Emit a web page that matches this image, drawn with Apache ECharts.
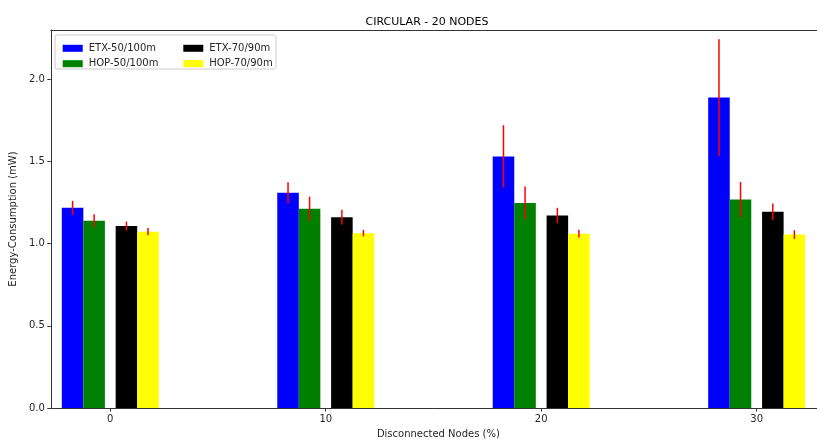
<!DOCTYPE html>
<html>
<head>
<meta charset="utf-8">
<script src="https://cdn.jsdelivr.net/npm/echarts@6/dist/echarts.min.js"></script>
<style>
html,body{margin:0;padding:0;background:#fff;}
#chart{width:817px;height:444px;}
</style>
</head>
<body>
<div id="chart"></div>
<script>
// ---- data ----
var categories = [0, 10, 20, 30];
var seriesNames = ['ETX-50/100m', 'HOP-50/100m', 'ETX-70/90m', 'HOP-70/90m'];
var etx50 = [1.218, 1.309, 1.531, 1.889];
var etx50Err = [0.042, 0.064, 0.190, 0.355];
var hop50 = [1.139, 1.212, 1.248, 1.268];
var hop50Err = [0.040, 0.074, 0.100, 0.107];
var etx70 = [1.107, 1.161, 1.172, 1.194];
var etx70Err = [0.028, 0.045, 0.046, 0.050];
var hop70 = [1.073, 1.064, 1.061, 1.055];
var hop70Err = [0.022, 0.020, 0.024, 0.027];
var yTicks = [0, 0.5, 1.0, 1.5, 2.0];

// ---- style / layout ----
var colors = ['#0000ff', '#008000', '#000000', '#ffff00'];
var offsets = [-1.75, -0.75, 0.75, 1.75];
var barW = 1.0;
var FONT = 'DejaVu Sans';
var TXT = '#262626';

function build(vals, errs) {
  return categories.map(function (c, i) { return [c, vals[i], errs[i]]; });
}
function makeRender(offset, color) {
  return function (params, api) {
    var x = api.value(0) + offset;
    var y = api.value(1);
    var e = api.value(2);
    var p0 = api.coord([x - barW / 2, y]);
    var p1 = api.coord([x + barW / 2, 0]);
    var a = api.coord([x, y + e]);
    var b = api.coord([x, y - e]);
    return {
      type: 'group',
      children: [
        { type: 'rect', shape: { x: p0[0], y: p0[1], width: p1[0] - p0[0], height: p1[1] - p0[1] },
          style: { fill: color } },
        { type: 'line', z2: 10, shape: { x1: a[0], y1: a[1], x2: b[0], y2: b[1] },
          style: { stroke: '#ff0000', lineWidth: 1.5 } }
      ]
    };
  };
}

var allVals = [etx50, hop50, etx70, hop70];
var allErrs = [etx50Err, hop50Err, etx70Err, hop70Err];
var series = seriesNames.map(function (n, k) {
  return {
    type: 'custom',
    name: n,
    xAxisIndex: 0,
    yAxisIndex: 0,
    itemStyle: { color: colors[k] },
    renderItem: makeRender(offsets[k], colors[k]),
    encode: { x: 0, y: 1 },
    data: build(allVals[k], allErrs[k]),
    clip: false,
    silent: true
  };
});

var XMIN = -2.76, XMAX = 32.8;
var chart = echarts.init(document.getElementById('chart'), null, { renderer: 'canvas' });
chart.setOption({
  animation: false,
  backgroundColor: '#ffffff',
  title: {
    text: 'CIRCULAR - 20 NODES',
    left: 422, top: 12, textAlign: 'center',
    textStyle: { fontFamily: FONT, fontSize: 11, fontWeight: 'normal', color: '#000' }
  },
  grid: { left: 49, right: 0, top: 30, bottom: 35, containLabel: false },
  legend: [
    {
      orient: 'vertical', left: 57.7, top: 37.3, itemWidth: 20, itemHeight: 7, itemGap: 3.4,
      icon: 'rect', data: [seriesNames[0], seriesNames[1]], z: 10,
      textStyle: { fontFamily: FONT, fontSize: 10, color: TXT, lineHeight: 12, padding: [0, 0, 0, 1] }
    },
    {
      orient: 'vertical', left: 178.3, top: 37.3, itemWidth: 20, itemHeight: 7, itemGap: 3.4,
      icon: 'rect', data: [seriesNames[2], seriesNames[3]], z: 10,
      textStyle: { fontFamily: FONT, fontSize: 10, color: TXT, lineHeight: 12, padding: [0, 0, 0, 1] }
    }
  ],
  graphic: [{
    type: 'rect', left: 54.5, top: 34.5, z: 5,
    shape: { width: 221, height: 34, r: 2 },
    style: { fill: 'rgba(255,255,255,0.8)', stroke: '#cccccc', lineWidth: 1 }
  }],
  xAxis: [
    {
      type: 'value', min: XMIN, max: XMAX, position: 'bottom',
      name: 'Disconnected Nodes (%)', nameLocation: 'middle', nameGap: 21,
      nameTextStyle: { fontFamily: FONT, fontSize: 10, color: TXT, padding: [0, 0, 0, 9] },
      axisLine: { show: true, onZero: false, lineStyle: { color: '#333', width: 1 } },
      axisTick: { show: true, length: 3.5, customValues: categories, lineStyle: { color: '#333' } },
      axisLabel: { show: true, customValues: categories, margin: 6, fontFamily: FONT, fontSize: 10, color: TXT },
      splitLine: { show: false }
    },
    {
      type: 'value', min: XMIN, max: XMAX, position: 'top',
      axisLine: { show: true, onZero: false, lineStyle: { color: '#333', width: 1 } },
      axisTick: { show: false }, axisLabel: { show: false }, splitLine: { show: false }
    }
  ],
  yAxis: [{
    type: 'value', min: 0, max: 2.3, position: 'left',
    name: 'Energy-Consumption (mW)', nameLocation: 'middle', nameGap: 28,
    nameTextStyle: { fontFamily: FONT, fontSize: 10, color: TXT },
    axisLine: { show: true, onZero: false, lineStyle: { color: '#333', width: 1 } },
    axisTick: { show: true, length: 3.5, customValues: yTicks, lineStyle: { color: '#333' } },
    axisLabel: { show: true, customValues: yTicks, margin: 6, fontFamily: FONT, fontSize: 10, color: TXT,
      formatter: function (v) { return Number(v).toFixed(1); } },
    splitLine: { show: false }
  }],
  series: series
});
</script>
</body>
</html>
